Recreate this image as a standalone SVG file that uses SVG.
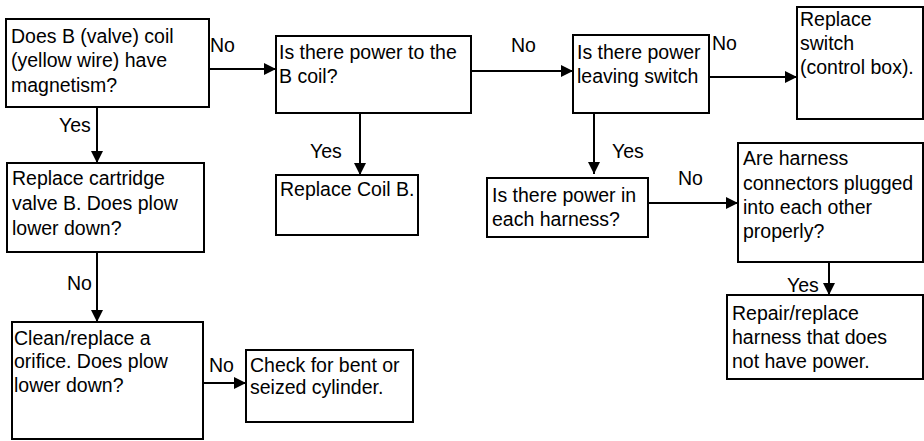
<svg xmlns="http://www.w3.org/2000/svg" width="924" height="441" viewBox="0 0 924 441">
<style>
.box{fill:#fff;stroke:#000;stroke-width:2}
text{font-family:"Liberation Sans",Arial,sans-serif;font-size:19.5px;fill:#000}
.conn{stroke:#000;stroke-width:2;fill:none;marker-end:url(#ah)}
</style>
<defs>
<marker id="ah" viewBox="0 0 12 12" refX="12" refY="6" markerWidth="12" markerHeight="12" markerUnits="userSpaceOnUse" orient="auto">
<path d="M0,0 L12,6 L0,12 Z" fill="#000"/>
</marker>
</defs>
<rect width="924" height="441" fill="#fff"/>
<g id="connectors">
<line class="conn" x1="209" y1="69" x2="276" y2="69"/>
<line class="conn" x1="471" y1="71" x2="573" y2="71"/>
<line class="conn" x1="709" y1="77" x2="797" y2="77"/>
<line class="conn" x1="648" y1="203" x2="738" y2="203"/>
<line class="conn" x1="203" y1="383" x2="246" y2="383"/>
<line class="conn" x1="97" y1="107" x2="97" y2="163"/>
<line class="conn" x1="97" y1="252" x2="97" y2="322"/>
<line class="conn" x1="360" y1="113" x2="360" y2="175"/>
<line class="conn" x1="594" y1="113" x2="594" y2="174"/>
<line class="conn" x1="829" y1="262" x2="829" y2="295"/>
<text x="210" y="52">No</text>
<text x="59" y="132">Yes</text>
<text x="511" y="52">No</text>
<text x="712" y="50">No</text>
<text x="310" y="158">Yes</text>
<text x="612" y="158">Yes</text>
<text x="678" y="185">No</text>
<text x="787" y="292">Yes</text>
<text x="67" y="290">No</text>
<text x="209" y="372">No</text>
</g>
<g id="n1">
<rect class="box" x="6" y="19" width="203" height="88"/>
<text x="11" y="43">Does B (valve) coil</text>
<text x="11" y="67">(yellow wire) have</text>
<text x="11" y="92">magnetism?</text>
</g>
<g id="n2">
<rect class="box" x="276" y="36" width="195" height="77"/>
<text x="279" y="59">Is there power to the</text>
<text x="279" y="83">B coil?</text>
</g>
<g id="n3">
<rect class="box" x="573" y="35" width="136" height="78"/>
<text x="577" y="59">Is there power</text>
<text x="577" y="83">leaving switch</text>
</g>
<g id="n4">
<rect class="box" x="797" y="7" width="126" height="112"/>
<text x="800" y="26">Replace</text>
<text x="800" y="50">switch</text>
<text x="800" y="74">(control box).</text>
</g>
<g id="n5">
<rect class="box" x="7" y="163" width="197" height="89"/>
<text x="12" y="185">Replace cartridge</text>
<text x="12" y="210">valve B. Does plow</text>
<text x="12" y="235">lower down?</text>
</g>
<g id="n6">
<rect class="box" x="12" y="322" width="191" height="117"/>
<text x="14" y="345">Clean/replace a</text>
<text x="14" y="368">orifice. Does plow</text>
<text x="14" y="392">lower down?</text>
</g>
<g id="n7">
<rect class="box" x="246" y="350" width="167" height="72"/>
<text x="250" y="372">Check for bent or</text>
<text x="250" y="394">seized cylinder.</text>
</g>
<g id="n8">
<rect class="box" x="276" y="175" width="142" height="60"/>
<text x="280" y="196">Replace Coil B.</text>
</g>
<g id="n9">
<rect class="box" x="487" y="178" width="161" height="59"/>
<text x="492" y="202">Is there power in</text>
<text x="492" y="226">each harness?</text>
</g>
<g id="n10">
<rect class="box" x="738" y="143" width="185" height="119"/>
<text x="743" y="165">Are harness</text>
<text x="743" y="190">connectors plugged</text>
<text x="743" y="214">into each other</text>
<text x="743" y="238">properly?</text>
</g>
<g id="n11">
<rect class="box" x="727" y="295" width="196" height="84"/>
<text x="732" y="320">Repair/replace</text>
<text x="732" y="344">harness that does</text>
<text x="732" y="368">not have power.</text>
</g>
</svg>
